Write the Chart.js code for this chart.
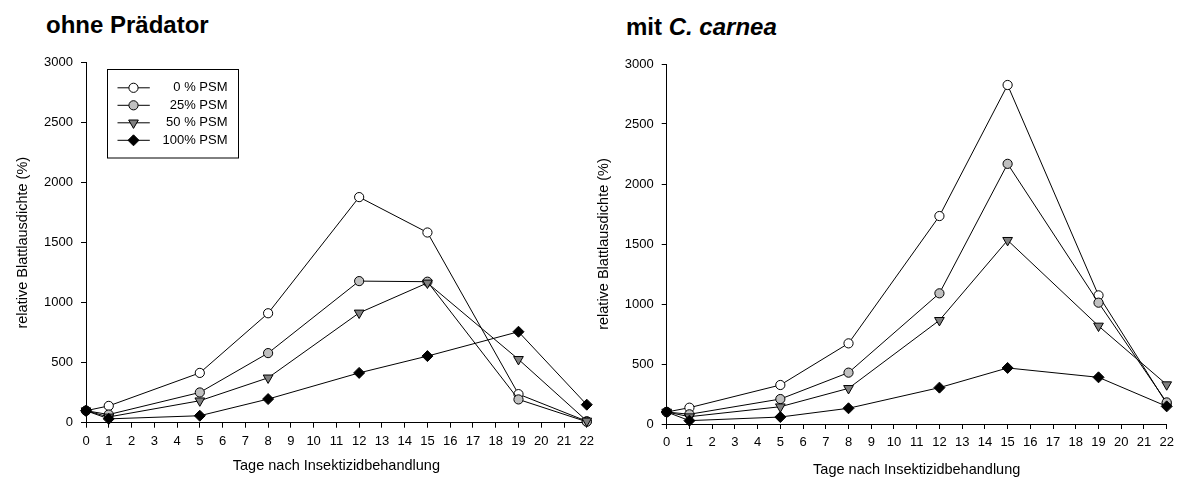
<!DOCTYPE html>
<html lang="de">
<head>
<meta charset="UTF-8">
<title>Relative Blattlausdichte</title>
<script src="https://cdn.jsdelivr.net/npm/chart.js"></script>
<style>
	body { margin: 0; background: #fff; width: 1181px; height: 479px; position: relative; overflow: hidden;
		font-family: "Liberation Sans", Arial, sans-serif; color: #000; }
	canvas { position: absolute; top: 0; }
	#leftChart { left: 0; }
	#rightChart { left: 580px; }
	.panel-title { position: absolute; font-weight: bold; font-size: 24px; line-height: 24px; white-space: nowrap; }
</style>
</head>
<body>

<div class="panel-title" style="left:46px; top:13px;">ohne Prädator</div>
<div class="panel-title" style="left:626px; top:15px;">mit <i>C. carnea</i></div>

<canvas id="leftChart" width="600" height="479"></canvas>
<canvas id="rightChart" width="601" height="479"></canvas>

<script>
// Tage nach Behandlung
const days = [0, 1, 5, 8, 12, 15, 19, 22];
const seriesLabels = ['0 % PSM', '25% PSM', '50 % PSM', '100% PSM'];
const yTicks = [0, 500, 1000, 1500, 2000, 2500, 3000];

// ohne Prädator
const ohne0 = [100, 140, 415, 912, 1880, 1585, 238, 12];
const ohne25 = [100, 68, 252, 580, 1180, 1175, 194, 8];
const ohne50 = [100, 48, 183, 374, 915, 1165, 528, 15];
const ohne100 = [100, 32, 58, 197, 415, 555, 758, 150];

// mit C. carnea
const mit0 = [100, 136, 325, 672, 1733, 2825, 1072, 170];
const mit25 = [100, 81, 208, 428, 1089, 2168, 1011, 180];
const mit50 = [100, 61, 144, 297, 864, 1531, 817, 328];
const mit100 = [100, 28, 58, 131, 303, 467, 389, 147];

Chart.defaults.font.family = '"Liberation Sans", Arial, sans-serif';
Chart.defaults.color = '#000';

const markers = [
	{ style: 'circle', radius: 4.6, fill: '#ffffff', rotation: 0 },
	{ style: 'circle', radius: 4.6, fill: '#c0c0c0', rotation: 0 },
	{ style: 'triangle', radius: 5.6, fill: '#808080', rotation: 180 },
	{ style: 'rectRot', radius: 5.5, fill: '#000000', rotation: 0 }
];

function makeDatasets(lists) {
	return lists.map((vals, i) => ({
		label: seriesLabels[i],
		data: days.map((d, k) => ({ x: d, y: vals[k] })),
		borderColor: '#000',
		borderWidth: 1,
		tension: 0,
		pointStyle: markers[i].style,
		pointRotation: markers[i].rotation,
		pointRadius: markers[i].radius,
		pointBackgroundColor: markers[i].fill,
		pointBorderColor: '#000',
		pointBorderWidth: 1,
		clip: false,
		order: 4 - i
	}));
}

function drawMarker(ctx, m, x, y) {
	const r = m.radius;
	ctx.beginPath();
	if (m.style === 'circle') {
		ctx.arc(x, y, r, 0, Math.PI * 2);
	} else if (m.style === 'triangle') {
		ctx.moveTo(x, y + r);
		ctx.lineTo(x - r * 0.866, y - r / 2);
		ctx.lineTo(x + r * 0.866, y - r / 2);
		ctx.closePath();
	} else {
		ctx.moveTo(x - r, y);
		ctx.lineTo(x, y - r);
		ctx.lineTo(x + r, y);
		ctx.lineTo(x, y + r);
		ctx.closePath();
	}
	ctx.fillStyle = m.fill;
	ctx.fill();
	ctx.strokeStyle = '#000';
	ctx.lineWidth = 1;
	ctx.stroke();
}

// legend box inside the plot area of the left panel
const legendBox = {
	id: 'legendBox',
	afterDatasetsDraw(chart) {
		const { ctx, chartArea } = chart;
		const bx = Math.round(chartArea.left + 20.7) + 0.5;
		const by = Math.round(chartArea.top + 6) + 0.5;
		ctx.save();
		ctx.strokeStyle = '#000';
		ctx.lineWidth = 1;
		ctx.strokeRect(bx, by, 131, 88.5);
		ctx.font = '13px "Liberation Sans", Arial, sans-serif';
		ctx.textAlign = 'right';
		ctx.textBaseline = 'middle';
		seriesLabels.forEach((txt, i) => {
			const ry = by + 18.3 + i * 17.5;
			ctx.beginPath();
			ctx.moveTo(bx + 10, ry);
			ctx.lineTo(bx + 42.3, ry);
			ctx.strokeStyle = '#000';
			ctx.stroke();
			drawMarker(ctx, markers[i], bx + 26, ry);
			ctx.fillStyle = '#000';
			ctx.fillText(txt, bx + 120, ry);
		});
		ctx.restore();
	}
};

function axisGrid() {
	return { drawOnChartArea: false, drawTicks: true, tickLength: 5, color: '#000', lineWidth: 1 };
}

function buildOptions(p) {
	return {
		responsive: false,
		animation: false,
		devicePixelRatio: 1,
		layout: { padding: { top: p.top, right: p.right, bottom: 0, left: 0 } },
		plugins: { legend: { display: false }, tooltip: { enabled: false } },
		scales: {
			x: {
				type: 'linear',
				min: days[0],
				max: days[days.length - 1],
				afterFit: s => { s.height = p.xHeight; },
				grid: axisGrid(),
				border: { color: '#000', width: 1 },
				ticks: { stepSize: 1, autoSkip: false, maxRotation: 0, padding: 6, font: { size: 13 },
					callback: v => String(v) },
				title: { display: true, text: 'Tage nach Insektizidbehandlung', font: { size: 14.5 },
					padding: { top: 0, bottom: p.xTitlePad } }
			},
			y: {
				min: yTicks[0],
				max: yTicks[yTicks.length - 1],
				afterFit: s => { s.width = p.yWidth; },
				grid: axisGrid(),
				border: { color: '#000', width: 1 },
				ticks: { stepSize: 500, padding: 8, font: { size: 13 },
					callback: v => String(v) },
				title: { display: true, text: 'relative Blattlausdichte (%)', font: { size: 14.5 },
					padding: { top: p.yTitlePad, bottom: 0 } }
			}
		}
	};
}

new Chart(document.getElementById('leftChart'), {
	type: 'line',
	data: { datasets: makeDatasets([ohne0, ohne25, ohne50, ohne100]) },
	options: buildOptions({ top: 62.7, right: 13, xHeight: 56.3, yWidth: 86, xTitlePad: 4.3, yTitlePad: 14.3 }),
	plugins: [legendBox]
});

new Chart(document.getElementById('rightChart'), {
	type: 'line',
	data: { datasets: makeDatasets([mit0, mit25, mit50, mit100]) },
	options: buildOptions({ top: 64, right: 14.3, xHeight: 55, yWidth: 86.7, xTitlePad: 0, yTitlePad: 15 })
});
</script>
</body>
</html>
